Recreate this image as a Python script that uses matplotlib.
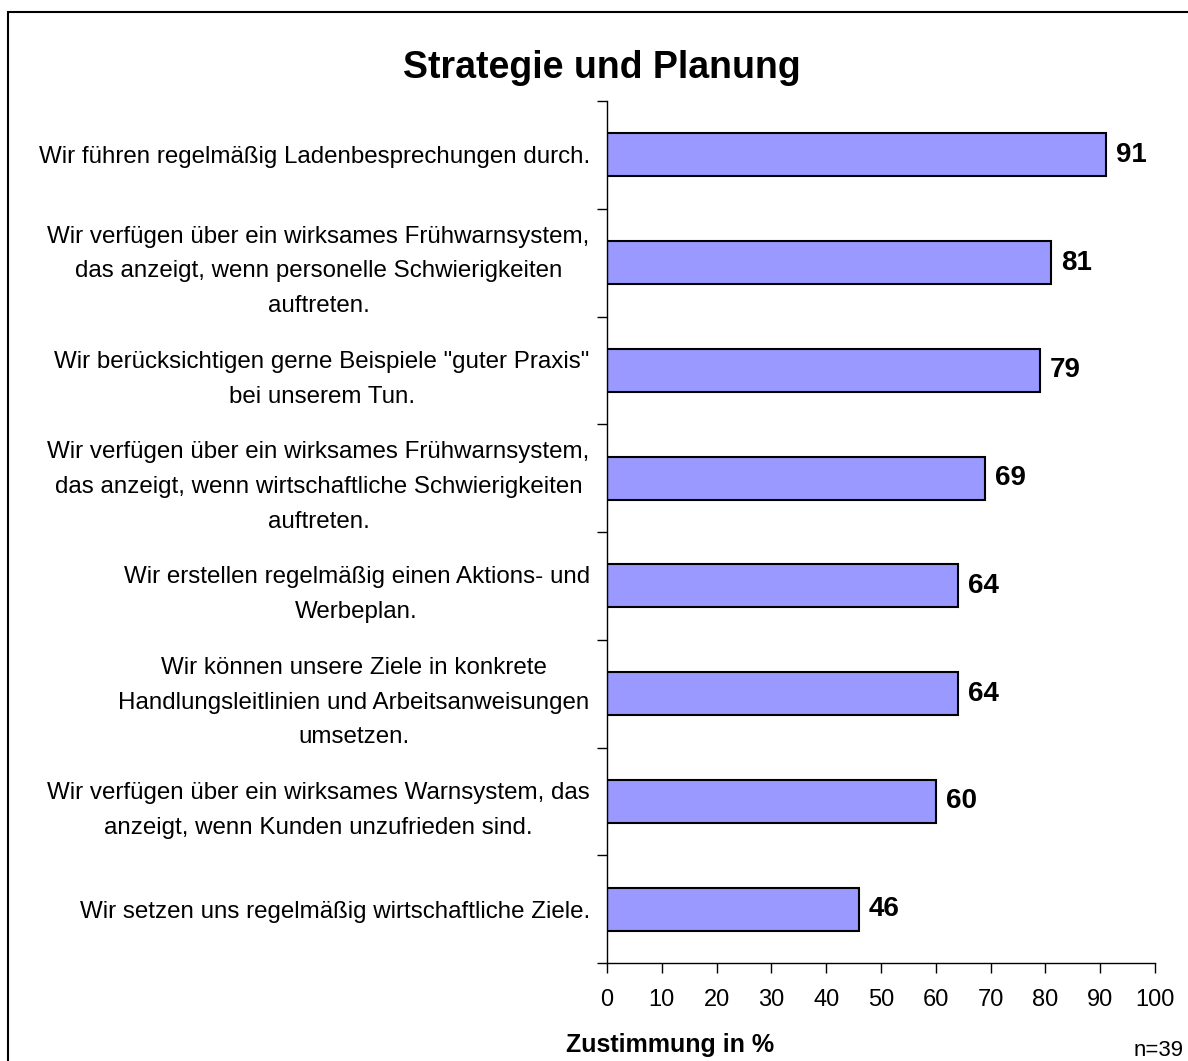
import numpy as np
import matplotlib.pyplot as plt
from matplotlib.patches import Rectangle

plt.rcParams['font.family'] = ['Liberation Sans', 'DejaVu Sans']

labels = [
    'Wir führen regelmäßig Ladenbesprechungen durch.',
    'Wir verfügen über ein wirksames Frühwarnsystem,\ndas anzeigt, wenn personelle Schwierigkeiten\nauftreten.',
    'Wir berücksichtigen gerne Beispiele "guter Praxis"\nbei unserem Tun.',
    'Wir verfügen über ein wirksames Frühwarnsystem,\ndas anzeigt, wenn wirtschaftliche Schwierigkeiten\nauftreten.',
    'Wir erstellen regelmäßig einen Aktions- und\nWerbeplan.',
    'Wir können unsere Ziele in konkrete\nHandlungsleitlinien und Arbeitsanweisungen\numsetzen.',
    'Wir verfügen über ein wirksames Warnsystem, das\nanzeigt, wenn Kunden unzufrieden sind.',
    'Wir setzen uns regelmäßig wirtschaftliche Ziele.',
]
values = [91, 81, 79, 69, 64, 64, 60, 46]
xticks = [0, 10, 20, 30, 40, 50, 60, 70, 80, 90, 100]

fig = plt.figure(figsize=(11.88, 10.61), dpi=100)
ax = fig.add_axes([607 / 1188, 1 - 963 / 1061, 548 / 1188, 862 / 1061])

pos = np.arange(len(values))
ax.barh(pos, values, height=0.4, color='#9999FF', edgecolor='black', linewidth=1.5)
for p, v in zip(pos, values):
    ax.text(v + 1.8, p, str(v), va='center', ha='left', fontsize=20, fontweight='bold')

ax.set_xlim(0, 100)
ax.set_ylim(len(values) - 0.5, -0.5)
ax.set_xticks(xticks)
ax.tick_params(axis='x', direction='out', length=7, width=1, labelsize=17, pad=12)
ax.set_yticks(np.arange(len(values) + 1) - 0.5)
ax.set_yticklabels([])
ax.set_yticks(pos, minor=True)
ax.set_yticklabels(labels, minor=True, fontsize=17.4, ma='center', linespacing=1.75)
ax.tick_params(axis='y', which='major', direction='out', length=7, width=1)
ax.tick_params(axis='y', which='minor', length=0, pad=12.5)

for s in ['top', 'right']:
    ax.spines[s].set_visible(False)
for s in ['left', 'bottom']:
    ax.spines[s].set_linewidth(1)

fig.text(602 / 1188, 1 - 78 / 1061, 'Strategie und Planung', ha='center', va='baseline',
         fontsize=27, fontweight='bold')
fig.text(670 / 1188, 1 - 1045 / 1061, 'Zustimmung in %', ha='center', va='center',
         fontsize=18, fontweight='bold')
fig.text(1134 / 1188, 1 - 1050 / 1061, 'n=39', ha='left', va='center', fontsize=16)

fig.patches.append(Rectangle((8 / 1188, -0.1), 1.2, 1 - 12 / 1061 + 0.1, transform=fig.transFigure,
                             fill=False, edgecolor='black', linewidth=1.5))

fig.savefig('out.png', dpi=100)
